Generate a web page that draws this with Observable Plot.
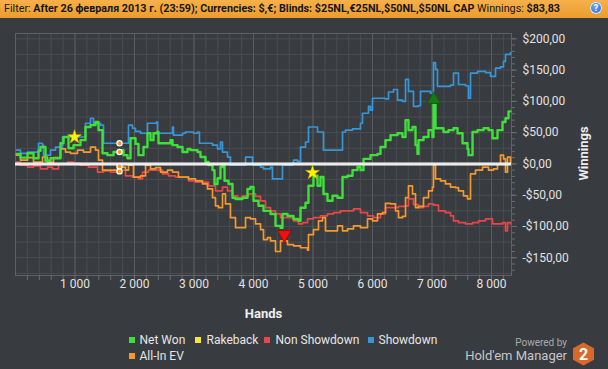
<!DOCTYPE html>
<html>
<head>
<meta charset="utf-8">
<script src="https://cdn.jsdelivr.net/npm/d3@7"></script>
<script src="https://cdn.jsdelivr.net/npm/@observablehq/plot@0.6"></script>
<style>
  html, body { margin: 0; padding: 0; }
  body { width: 608px; height: 369px; overflow: hidden; position: relative; background: #383b3f; font-family: Roboto, "Open Sans", sans-serif; }
  #hdr { position: absolute; left: 0; top: 0; width: 608px; height: 18px; background: linear-gradient(#f7b04a, #eb9c2d); }
  #hdrtext { position: absolute; left: 4px; top: 0; height: 18px; line-height: 18px; font-size: 11px; color: #161616; white-space: nowrap; transform-origin: 0 50%; font-family: Roboto, sans-serif; }
  #help { position: absolute; left: 590px; top: 2px; width: 12px; height: 12px; border-radius: 50%; background: radial-gradient(circle at 40% 35%, #6fa6f0, #1f5fc4); color: #fff; font: bold 9px Roboto, sans-serif; text-align: center; line-height: 12px; box-shadow: 0 0 0 1px #e9f0ff inset; }
  #chart { position: absolute; left: 0; top: 18px; }
  .leg { position: absolute; font-size: 12px; color: #e6e6e6; white-space: nowrap; line-height: 14px; }
  .sq { position: absolute; width: 6px; height: 6px; }
  #pw { position: absolute; right: 41px; top: 337px; font-size: 10px; color: #a9abad; }
  #hm { position: absolute; right: 41px; top: 348px; font-size: 13px; color: #c4c6c8; }
  #logo { position: absolute; left: 572px; top: 342px; }
</style>
</head>
<body>
<div id="hdr"><div id="hdrtext">Filter: <b>After 26 февраля 2013 г. (23:59); Currencies: $,€; Blinds: $25NL,€25NL,$50NL,$50NL CAP</b> Winnings: <b>$83,83</b></div><div id="help">?</div></div>
<div id="chart"></div>
<div id="legend"></div>
<div id="pw">Powered by</div>
<div id="hm">Hold'em Manager</div>
<svg id="logo" width="23" height="24" viewBox="0 0 23 24">
  <polygon points="11.5,0.5 22,6.3 22,17.7 11.5,23.5 1,17.7 1,6.3" fill="#d9692b"/>
  <text x="11.5" y="17.5" text-anchor="middle" fill="#fff" font-family="Roboto, sans-serif" font-weight="bold" font-size="16">2</text>
</svg>
<script>
// ---- data (hands, $) ----
const seriesNames = ["Net Won", "Rakeback", "Non Showdown", "Showdown", "All-In EV"];
const seriesColors = ["#3fe03a", "#f2e63a", "#e8474a", "#3796d8", "#f39a2e"];

const netWon = [[17,16],[84,10],[202,17],[303,9],[387,21],[420,27],[504,5],[588,9],[756,33],[807,43],[891,25],[975,30],[1092,38],[1176,59],[1261,62],[1345,67],[1395,54],[1462,17],[1546,14],[1647,19],[1765,22],[1815,14],[1882,9],[1933,41],[2017,32],[2067,14],[2151,27],[2218,49],[2269,38],[2319,49],[2387,51],[2403,33],[2521,33],[2605,38],[2639,30],[2723,27],[2807,19],[2891,24],[2941,22],[3059,19],[3109,11],[3193,3],[3244,-2],[3311,-10],[3345,-32],[3395,-23],[3445,-5],[3479,0],[3513,-27],[3580,-32],[3647,-54],[3698,-56],[3815,-54],[3899,-40],[3950,-37],[4000,-59],[4084,-67],[4168,-75],[4286,-80],[4370,-99],[4454,-102],[4487,-80],[4571,-83],[4672,-88],[4756,-91],[4790,-70],[4874,-62],[4924,-35],[5008,-19],[5076,-35],[5126,-21],[5176,-48],[5244,-59],[5328,-51],[5412,-54],[5496,-21],[5580,-19],[5664,-10],[5748,-5],[5798,-10],[5849,8],[5966,14],[6084,16],[6134,27],[6218,38],[6303,46],[6420,49],[6504,43],[6555,70],[6605,54],[6672,59],[6723,30],[6756,16],[6773,38],[6857,43],[6941,54],[7008,43],[7025,95],[7059,57],[7193,51],[7277,54],[7361,57],[7429,49],[7513,33],[7597,24],[7613,14],[7681,51],[7765,54],[7866,57],[7950,54],[8017,41],[8101,54],[8185,67],[8235,73],[8286,84],[8319,84]];

const showdown = [[17,22],[84,17],[202,19],[387,33],[454,30],[471,14],[588,22],[672,27],[790,43],[1042,43],[1176,65],[1261,73],[1311,65],[1429,62],[1479,33],[1849,33],[1899,62],[1966,57],[2017,52],[2101,49],[2218,65],[2319,65],[2370,67],[2387,49],[2571,49],[2639,59],[2655,46],[2807,49],[2857,51],[2992,49],[3059,51],[3092,33],[3227,33],[3311,30],[3395,24],[3445,35],[3479,19],[3563,11],[3613,-2],[3748,-2],[3866,11],[3950,11],[3983,-2],[4118,-5],[4168,-8],[4286,-5],[4319,-24],[4454,-24],[4487,-2],[4655,0],[4672,6],[4739,4],[4790,27],[4874,35],[4924,59],[5042,59],[5076,51],[5160,51],[5176,22],[5462,22],[5496,51],[5546,54],[5664,56],[5798,65],[5832,81],[5933,92],[5966,86],[6000,105],[6185,105],[6218,104],[6269,115],[6353,119],[6420,102],[6504,100],[6555,135],[6605,116],[6689,92],[6773,93],[6807,116],[6941,116],[6975,113],[7025,162],[7059,151],[7092,124],[7227,124],[7311,126],[7361,145],[7429,145],[7445,127],[7563,125],[7613,105],[7647,145],[7765,148],[7899,146],[7983,140],[8034,140],[8067,153],[8151,155],[8202,164],[8235,175],[8319,178]];

const allInEV = [[17,14],[84,6],[202,10],[303,3],[454,11],[538,3],[639,10],[756,24],[840,19],[924,17],[1042,22],[1143,19],[1261,27],[1345,22],[1395,6],[1462,-10],[1597,-10],[1714,-5],[1849,-10],[1899,-2],[1983,-21],[2101,-19],[2185,-2],[2269,-8],[2353,-6],[2437,-13],[2555,-10],[2639,-13],[2739,-21],[2908,-24],[3025,-27],[3143,-32],[3227,-40],[3311,-54],[3361,-67],[3412,-70],[3479,-48],[3529,-64],[3613,-86],[3698,-102],[3782,-102],[3866,-86],[3950,-88],[4034,-96],[4118,-105],[4168,-121],[4235,-118],[4286,-123],[4370,-140],[4454,-123],[4571,-129],[4672,-131],[4790,-134],[4908,-138],[4924,-113],[5008,-105],[5092,-91],[5160,-86],[5210,-107],[5328,-107],[5412,-99],[5496,-107],[5580,-104],[5681,-99],[5798,-102],[5916,-88],[6000,-91],[6084,-80],[6168,-78],[6218,-63],[6303,-64],[6387,-75],[6437,-86],[6504,-84],[6555,-54],[6605,-35],[6672,-48],[6723,-70],[6773,-68],[6857,-54],[6941,-43],[7008,-37],[7025,-2],[7059,-24],[7143,-27],[7227,-32],[7311,-37],[7395,-38],[7445,-43],[7529,-51],[7597,-56],[7647,-16],[7731,-10],[7849,-5],[7950,-10],[8034,-8],[8101,0],[8151,14],[8202,8],[8235,-13],[8269,11],[8319,0]];

const nonShowdown = [[17,3],[84,-2],[202,-5],[303,-3],[420,-8],[538,-5],[622,-8],[723,0],[874,3],[975,1],[1092,-2],[1227,-5],[1378,-13],[1479,-11],[1597,-13],[1714,-10],[1849,-19],[1966,-21],[2067,-24],[2134,-13],[2235,-10],[2353,-10],[2471,-16],[2571,-19],[2689,-21],[2807,-21],[2908,-27],[3025,-29],[3143,-29],[3244,-35],[3361,-43],[3479,-37],[3563,-43],[3647,-51],[3731,-54],[3815,-51],[3916,-48],[4034,-52],[4118,-59],[4202,-70],[4286,-75],[4370,-80],[4454,-86],[4571,-86],[4672,-91],[4756,-96],[4824,-94],[4908,-88],[5008,-86],[5126,-83],[5244,-80],[5345,-78],[5462,-75],[5580,-75],[5681,-72],[5798,-78],[5916,-83],[6017,-86],[6134,-80],[6218,-70],[6336,-70],[6437,-68],[6555,-67],[6605,-56],[6689,-65],[6773,-70],[6857,-68],[6941,-64],[7025,-66],[7109,-75],[7227,-78],[7311,-83],[7361,-91],[7445,-94],[7563,-96],[7681,-94],[7782,-91],[7899,-88],[8017,-96],[8118,-96],[8185,-94],[8235,-107],[8269,-94],[8319,-96]];

// markers
const stars = [[992,43],[4992,-14]];
const peakUp = [[7030,103]];
const lowDown = [[4520,-113]];
const hoverHands = 1748;
const hoverValues = [33, 19, -4, -12];

// tick values
const yLabelTicks = [-150, -100, -50, 0, 50, 100, 150, 200];
const xLabelTicks = [1000, 2000, 3000, 4000, 5000, 6000, 7000, 8000];

// ---- drawing ----
const fmtMoney = d => (d < 0 ? "-" : "") + "$" + Math.abs(d).toFixed(2).replace(".", ",");
const fmtHands = d => d3.format(",")(d).replace(/,/g, " ");
const toRows = (arr) => arr.map(([h, v]) => ({h, v}));

const triDown = {
  draw(ctx, size) {
    const y = -Math.sqrt(size / (Math.sqrt(3) * 3));
    const s3 = Math.sqrt(3);
    ctx.moveTo(0, -2 * y);
    ctx.lineTo(s3 * y, y);
    ctx.lineTo(-s3 * y, y);
    ctx.closePath();
  }
};

const xMax = 8336;
const chart = Plot.plot({
  width: 608,
  height: 310,
  marginTop: 15,
  marginLeft: 15,
  marginRight: 97,
  marginBottom: 53,
  style: {background: "transparent", color: "#e2e2e2", fontFamily: "Roboto, sans-serif", fontSize: "12px"},
  x: {domain: [0, xMax]},
  y: {domain: [-178.4, 208.5]},
  marks: [
    Plot.gridY(d3.range(-175, 201, 25), {stroke: "#4a4d51", strokeOpacity: 1}),
    Plot.gridX(d3.range(200, xMax, 200), {stroke: "#4a4d51", strokeOpacity: 1}),
    Plot.gridX(xLabelTicks, {stroke: "#5a5d61", strokeOpacity: 1}),
    Plot.frame({stroke: "#5e6165"}),
    Plot.axisY(d3.range(-170, 201, 10), {anchor: "right", tickSize: 3, text: null, label: null, stroke: "#6b6e72"}),
    Plot.axisY(yLabelTicks, {anchor: "right", tickSize: 5, text: null, label: null, stroke: "#6b6e72"}),
    Plot.axisY(yLabelTicks, {anchor: "right", tickSize: 0, tickPadding: 11, tickFormat: fmtMoney, label: null, fontSize: 12, fill: "#e2e2e2"}),
    Plot.axisX(d3.range(200, xMax, 200), {tickSize: 5, text: null, label: null, stroke: "#6b6e72"}),
    Plot.axisX(xLabelTicks, {tickSize: 0, tickPadding: 4, tickFormat: fmtHands, label: null, fontSize: 12, fill: "#e2e2e2"}),
    Plot.line(toRows(showdown), {x: "h", y: "v", stroke: seriesColors[3], strokeWidth: 1.7, curve: "step-after"}),
    Plot.line(toRows(nonShowdown), {x: "h", y: "v", stroke: seriesColors[2], strokeWidth: 1.7, curve: "step-after"}),
    Plot.line(toRows(allInEV), {x: "h", y: "v", stroke: seriesColors[4], strokeWidth: 1.7, curve: "step-after"}),
    Plot.line(toRows(netWon), {x: "h", y: "v", stroke: seriesColors[0], strokeWidth: 2.4, curve: "step-after"}),
    Plot.ruleY([0], {stroke: "#ffffff", strokeWidth: 3}),
    Plot.ruleY([0], {stroke: "#c8c8c8", strokeWidth: 0.7}),
    Plot.dot(hoverValues.map(v => ({h: hoverHands, v})), {x: "h", y: "v", r: 2.6, fill: "#f39a2e", stroke: "#ffffff", strokeWidth: 1.2}),
    Plot.dot(toRows(stars), {x: "h", y: "v", symbol: "star", r: 4.3, fill: "#fff200", stroke: "#d8c800", strokeWidth: 0.6}),
    Plot.dot(toRows(peakUp), {x: "h", y: "v", symbol: "triangle", r: 5, fill: "#157a15", stroke: "#0b560b", strokeWidth: 0.8}),
    Plot.dot(toRows(lowDown), {x: "h", y: "v", symbol: triDown, r: 5.2, fill: "#ee1111", stroke: "#a00000", strokeWidth: 0.8}),
    Plot.text(["Hands"], {frameAnchor: "bottom", lineAnchor: "middle", textAnchor: "middle", dy: 38, fontWeight: "bold", fontSize: 13, fill: "#eeeeee"}),
    Plot.text(["Winnings"], {frameAnchor: "right", lineAnchor: "middle", textAnchor: "middle", dx: 72, dy: -1, rotate: -90, fontWeight: "bold", fontSize: 13, fill: "#eeeeee"})
  ]
});
document.getElementById("chart").appendChild(chart);

// legend
const legendPos = [[129, 333], [195, 333], [264, 333], [368, 333], [129, 349]];
const legendText = [139.5, 206.5, 275.5, 378.5, 139.5];
const leg = document.getElementById("legend");
seriesNames.forEach((name, i) => {
  const sq = document.createElement("div");
  sq.className = "sq";
  sq.style.left = legendPos[i][0] + "px";
  sq.style.top = (legendPos[i][1] + 4) + "px";
  sq.style.background = seriesColors[i];
  leg.appendChild(sq);
  const t = document.createElement("div");
  t.className = "leg";
  t.style.left = legendText[i] + "px";
  t.style.top = legendPos[i][1] + "px";
  t.textContent = name;
  leg.appendChild(t);
});

// fit header text width
const hs = document.getElementById("hdrtext");
const w = hs.getBoundingClientRect().width;
hs.style.transform = `scaleX(${556 / w})`;
</script>
</body>
</html>
